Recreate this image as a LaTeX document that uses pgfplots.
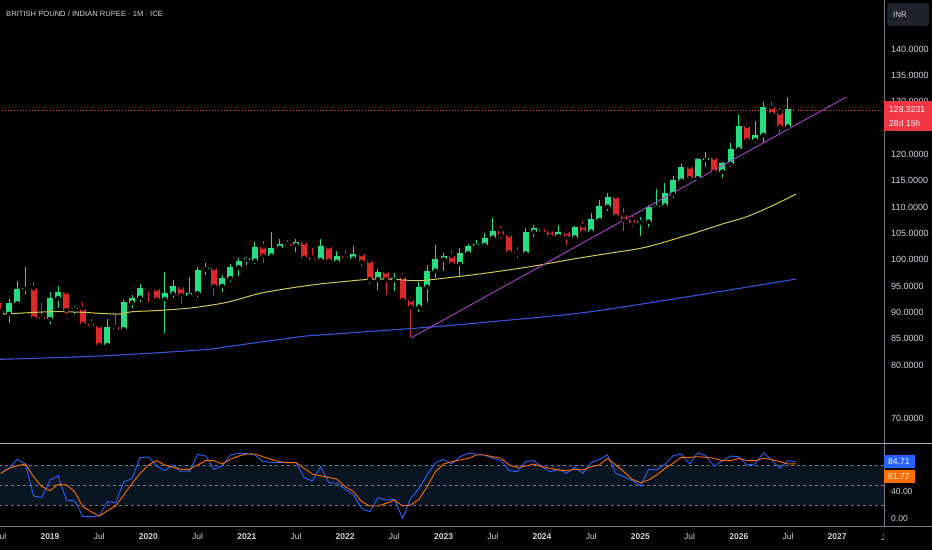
\documentclass[border=0pt]{standalone}
\usepackage{pgfplots}
\pgfplotsset{compat=1.18}
\usepackage{pgfplotstable}
\usepackage{fontspec}
\setmainfont{Liberation Sans}

\definecolor{upc}{RGB}{38,222,129}
\definecolor{dnc}{RGB}{220,40,40}
\definecolor{txt}{RGB}{209,212,220}
\definecolor{maY}{RGB}{214,196,84}
\definecolor{maB}{RGB}{52,84,220}
\definecolor{trend}{RGB}{176,64,206}
\definecolor{kcol}{RGB}{41,98,255}
\definecolor{dcol}{RGB}{255,109,0}
\definecolor{band}{RGB}{9,21,32}
\definecolor{sep}{RGB}{120,123,134}
\definecolor{sepl}{RGB}{170,172,180}
\definecolor{boxbd}{RGB}{50,54,66}
\definecolor{pricered}{RGB}{242,54,69}
\definecolor{boxbg}{RGB}{30,34,45}

\pgfplotstableread{
m o h l c
-5 89.72 92.56 88.01 91.75
-4 91.75 96.04 91.24 94.46
-3 94.46 98.64 93.51 94.65
0 88.77 93.95 87.82 92.70
1 92.70 95.03 90.86 93.89
3 90.61 91.24 89.72 90.80
7 83.84 88.77 83.51 87.25
9 86.81 92.38 86.72 91.94
10 91.86 93.27 90.91 92.75
11 92.81 95.41 92.05 94.71
14 92.56 97.74 86.05 93.64
15 93.57 96.17 92.81 94.97
17 93.19 96.80 92.81 93.64
18 93.64 98.64 92.98 98.07
19 98.20 99.34 97.12 98.39
21 95.03 97.12 93.95 96.61
22 96.49 99.15 95.85 98.64
23 98.58 100.29 96.98 99.77
24 99.97 100.59 99.02 100.29
25 99.83 103.32 99.15 102.49
27 100.78 105.33 100.72 102.30
28 102.30 103.95 102.18 103.00
30 102.81 103.95 101.54 103.38
33 99.97 103.95 99.78 102.62
35 99.59 101.73 99.45 100.72
37 100.21 102.62 100.10 101.10
40 96.30 98.20 94.27 97.74
42 96.17 97.44 94.14 96.55
45 91.10 95.85 90.15 94.78
46 94.90 99.02 92.05 97.94
47 97.94 102.75 96.49 100.10
48 100.10 101.35 97.94 100.72
50 99.21 102.18 96.93 101.35
51 101.24 102.94 101.10 102.62
52 102.62 103.76 102.18 102.94
53 102.81 105.18 102.49 104.18
54 104.20 107.88 103.95 105.56
58 101.20 105.98 100.91 105.32
59 105.32 106.66 104.39 105.98
62 104.52 106.61 104.39 105.28
64 104.23 106.42 104.14 106.28
66 105.34 108.83 105.28 107.69
67 107.55 111.35 107.23 110.15
68 110.08 112.62 109.32 111.98
72 107.08 108.18 104.58 107.42
73 107.23 110.40 106.28 110.08
74 109.96 113.38 109.77 110.27
75 110.27 114.63 109.77 112.62
76 112.49 115.90 111.67 115.14
77 115.01 118.18 114.82 117.67
79 115.47 119.26 115.28 119.07
80 118.94 120.46 117.67 119.38
82 116.72 118.62 115.47 118.31
83 118.18 122.22 117.67 120.97
84 120.97 127.48 120.84 125.45
86 122.73 126.40 122.22 123.68
87 123.68 130.00 122.41 128.94
90 125.26 130.84 125.14 128.62
}\upT

\pgfplotstableread{
m o h l c
-6 90.29 91.81 89.34 89.72
-2 94.59 95.85 88.77 88.90
-1 89.15 91.81 88.39 88.77
2 93.89 94.14 89.72 90.48
4 90.67 92.05 87.63 87.82
5 87.88 88.83 87.31 87.50
6 87.50 87.63 83.40 83.84
8 87.19 89.72 86.59 86.68
12 94.65 94.78 92.05 94.40
13 94.46 94.59 92.36 92.51
16 94.78 95.16 91.67 93.32
20 98.39 98.69 93.32 95.03
26 102.49 103.57 99.45 100.78
29 103.00 103.76 102.18 102.68
31 103.32 103.44 100.34 100.40
32 100.48 102.30 99.64 99.97
34 102.49 102.75 99.34 99.83
36 100.72 101.86 100.10 100.29
38 101.05 101.54 98.88 99.64
39 99.77 100.10 95.41 96.30
41 97.74 98.20 93.32 96.30
43 96.68 97.31 92.28 92.38
44 92.38 93.00 85.30 91.10
49 100.72 101.67 99.02 99.21
55 105.56 106.42 103.89 104.71
56 104.71 105.03 100.91 101.43
57 101.43 102.49 100.29 101.20
60 105.85 106.28 104.90 105.32
61 105.51 105.94 104.23 104.56
63 105.28 105.79 102.72 104.27
65 106.42 107.42 105.22 105.34
69 112.01 112.20 108.07 108.31
70 108.45 109.77 105.53 107.56
71 107.74 108.50 106.17 106.93
78 117.67 117.99 115.01 115.47
81 119.38 119.70 116.61 116.72
85 125.39 125.90 122.11 122.73
88 128.94 130.00 127.48 127.67
89 127.92 128.75 124.12 125.26
91 128.71 128.81 128.24 128.33
}\dnT

\pgfplotstableread{
m k d
-6 67.7 67.7
-5 75.0 75.1
-4 88.4 79.0
-3 81.5 81.5
-2 34.0 62.7
-1 32.0 47.9
0 57.8 42.0
1 63.7 51.4
2 28.0 50.4
3 27.0 40.5
4 3.5 18.3
5 3.5 10.9
6 4.4 4.4
7 25.7 12.3
8 24.0 19.3
9 55.0 35.6
10 60.0 52.8
11 91.0 67.7
12 92.0 80.0
13 78.5 86.4
14 71.6 80.0
15 80.0 76.5
16 70.0 73.6
17 70.0 73.6
18 95.8 80.0
19 93.3 86.4
20 73.6 86.4
21 78.5 81.5
22 94.8 88.4
23 97.3 93.3
24 97.3 96.3
25 94.8 96.3
26 84.9 92.3
27 84.0 88.4
28 83.5 84.9
29 83.5 83.5
30 83.5 83.5
31 61.2 75.1
32 56.3 66.7
33 77.5 63.7
34 53.8 61.7
35 52.8 58.8
36 44.0 47.9
37 35.6 40.5
38 15.8 25.7
39 10.9 19.3
40 31.6 19.3
41 28.1 23.2
42 29.1 28.1
43 1.0 19.3
44 30.6 20.7
45 45.4 29.1
46 65.2 47.9
47 83.5 70.1
48 88.4 81.5
49 81.5 84.9
50 92.3 87.4
51 97.0 89.9
52 96.3 94.8
53 94.8 94.8
54 89.9 92.3
55 86.4 89.9
56 71.6 80.0
57 70.1 76.5
58 84.9 78.5
59 86.4 81.5
60 77.5 77.5
61 70.1 75.1
62 73.6 72.6
63 67.7 71.6
64 76.5 73.6
65 67.7 72.6
66 83.5 77.5
67 88.4 80.0
68 94.8 89.9
69 67.7 80.0
70 62.7 70.1
71 56.8 58.8
72 48.9 53.8
73 73.6 57.8
74 72.6 65.2
75 81.5 75.1
76 93.8 82.5
77 96.3 91.4
78 81.5 91.4
79 98.3 92.3
80 93.3 91.4
81 78.5 89.9
82 86.4 86.4
83 93.3 86.4
84 92.3 89.9
85 80.0 86.4
86 81.5 86.4
87 98.3 89.9
88 87.4 88.4
89 75.1 84.9
90 86.4 81.5
91 84.71 81.77
}\stochT

\begin{document}
\begin{tikzpicture}[x=1pt,y=1pt]
\path[use as bounding box] (0pt,0pt) rectangle (932pt,-550pt);
\clip (0pt,0pt) rectangle (932pt,-550pt);
\fill[black] (0pt,0pt) rectangle (932pt,-550pt);

\begin{axis}[
  at={(0pt,0pt)}, anchor=north west,
  width=884pt, height=443pt, scale only axis,
  xmin=-6.098, xmax=101.71, ymin=65.24, ymax=149.30,
  axis line style={draw=none}, major tick length=0pt,
  xtick=\empty,
  ytick={70,80,85,90,95,100,105,110,115,120,125,130,135,140},
  ytick pos=right,
  yticklabel style={anchor=west, inner sep=0pt, xshift=7pt, text=txt, font=\fontsize{9}{10}\selectfont},
  /pgf/number format/.cd, fixed, zerofill, precision=4, assume math mode=true, 1000 sep={},
]
% wicks
\addplot[forget plot, only marks, mark=none,
  error bars/.cd, y dir=both, y explicit, error mark=none,
  error bar style={draw=upc, line width=1pt}]
  table[x=m, y=o, y error plus expr=\thisrow{h}-\thisrow{o}, y error minus expr=\thisrow{o}-\thisrow{l}] {\upT};
\addplot[forget plot, only marks, mark=none,
  error bars/.cd, y dir=both, y explicit, error mark=none,
  error bar style={draw=dnc, line width=1pt}]
  table[x=m, y=o, y error plus expr=\thisrow{h}-\thisrow{o}, y error minus expr=\thisrow{o}-\thisrow{l}] {\dnT};
% bodies
\addplot[forget plot, only marks, mark=none,
  error bars/.cd, y dir=plus, y explicit, error mark=none,
  error bar style={draw=upc, line width=6pt}]
  table[x=m, y=o, y error plus expr=\thisrow{c}-\thisrow{o}] {\upT};
\addplot[forget plot, only marks, mark=none,
  error bars/.cd, y dir=plus, y explicit, error mark=none,
  error bar style={draw=dnc, line width=6pt}]
  table[x=m, y=c, y error plus expr=\thisrow{o}-\thisrow{c}] {\dnT};
% moving averages
\addplot[maY, line width=1pt, smooth, mark=none] coordinates {
(-6.1,89.66) (0,90.15) (4,90.04) (6,89.85) (8.5,89.72) (10,90.15) (13.4,90.4)
(17.4,90.91) (21.6,91.94) (25.6,93.64) (29.6,94.71) (32.9,95.41) (36,95.9)
(39,96.3) (42,96.3) (45,96.04) (49,96.68) (53,97.44) (58.5,98.69) (63.8,100.15)
(68,101.2) (72.6,102.38) (78,104.8) (82,106.8) (85,108.2) (88,110.2) (91,112.49)};
\addplot[maB, line width=1.1pt, smooth, mark=none] coordinates {
(-6.1,81.12) (6,81.75) (18.3,82.89) (22,83.6) (30.5,85.41) (33.5,85.8)
(46,87.19) (53,88.14) (65,89.97) (77,92.8) (91,96.36)};
% trend line
\addplot[trend, line width=0.9pt, mark=none] coordinates {(44.0,85.16) (97.1,130.89)};
% current price line
\addplot[pricered, line width=0.6pt, dash pattern=on 1pt off 2pt, mark=none] coordinates {(-6.2,128.32) (101.8,128.32)};
\end{axis}

\begin{axis}[
  at={(0pt,-443pt)}, anchor=north west,
  width=884pt, height=83pt, scale only axis,
  xmin=-6.098, xmax=101.71, ymin=-10.4, ymax=112.6,
  axis line style={draw=none}, major tick length=0pt,
  ytick={0,40}, ytick pos=right,
  yticklabel style={anchor=west, inner sep=0pt, xshift=7pt, text=txt, font=\fontsize{8.5}{10}\selectfont},
  xtick={-6,0,...,96},
  xticklabels={Jul,\textbf{2019},Jul,\textbf{2020},Jul,\textbf{2021},Jul,\textbf{2022},Jul,\textbf{2023},Jul,\textbf{2024},Jul,\textbf{2025},Jul,\textbf{2026},Jul,\textbf{2027}},
  xticklabel style={anchor=north, inner sep=0pt, yshift=-7pt, text=txt, font=\fontsize{8.5}{10}\selectfont},
  /pgf/number format/.cd, fixed, zerofill, precision=2, assume math mode=true,
]
\fill[band] (axis cs:-7,20) rectangle (axis cs:102,80);
\addplot[sep, dash pattern=on 3pt off 3pt, line width=0.6pt, mark=none] coordinates {(-7,80) (102,80)};
\addplot[sep, dash pattern=on 3pt off 3pt, line width=0.6pt, mark=none] coordinates {(-7,50) (102,50)};
\addplot[sep, dash pattern=on 3pt off 3pt, line width=0.6pt, mark=none] coordinates {(-7,20) (102,20)};
\addplot[kcol, line width=0.9pt, mark=none] table[x=m, y=k] {\stochT};
\addplot[dcol, line width=0.9pt, mark=none] table[x=m, y=d] {\stochT};
\end{axis}

% separators
\draw[sep, line width=0.8pt] (884pt,0pt) -- (884pt,-550pt);
\draw[sepl, line width=1.4pt] (0pt,-443.5pt) -- (932pt,-443.5pt);
\draw[sep, line width=1pt] (0pt,-526.5pt) -- (932pt,-526.5pt);

\node[anchor=center, text=txt, font=\fontsize{8.5}{10}\selectfont, inner sep=0pt] at (886.5pt,-537pt) {Jul};
\fill[black] (884.4pt,-527.2pt) rectangle (932pt,-550pt);

% title
\node[anchor=west, text=txt, font=\fontsize{7.6}{9}\selectfont, inner sep=0pt] at (6pt,-14pt) {BRITISH POUND / INDIAN RUPEE · 1M · ICE};

% INR box
\draw[draw=boxbd, fill=boxbg, rounded corners=2.5pt] (887.5pt,-3.5pt) rectangle (928.5pt,-25.5pt);
\node[anchor=west, text=txt, font=\fontsize{8}{9}\selectfont, inner sep=0pt] at (893pt,-14.5pt) {INR};

% price label
\fill[pricered] (884.4pt,-101pt) rectangle (932pt,-131pt);
\node[anchor=west, text=white, font=\fontsize{8.6}{10}\selectfont, inner sep=0pt] at (889pt,-109.5pt) {128.3231};
\node[anchor=west, text=white, font=\fontsize{8.6}{10}\selectfont, inner sep=0pt] at (889pt,-123pt) {28d 15h};

% stoch labels
\fill[kcol] (884.4pt,-455pt) rectangle (914.5pt,-468.3pt);
\node[anchor=west, text=white, font=\fontsize{8.5}{10}\selectfont, inner sep=0pt] at (888pt,-461.6pt) {84.71};
\fill[dcol] (884.4pt,-470pt) rectangle (914.5pt,-482.7pt);
\node[anchor=west, text=white, font=\fontsize{8.5}{10}\selectfont, inner sep=0pt] at (888pt,-476.3pt) {81.77};
\end{tikzpicture}
\end{document}
